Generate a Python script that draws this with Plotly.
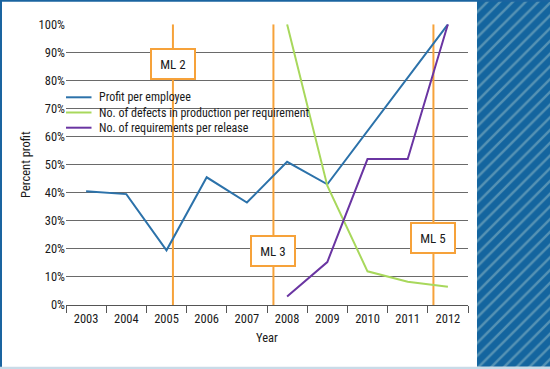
import plotly.graph_objects as go

# ---------------- data ----------------
years = ["2003", "2004", "2005", "2006", "2007", "2008", "2009", "2010", "2011", "2012"]
profit_per_employee = [40.5, 39.5, 19.5, 45.5, 36.5, 51, 43, 62, 81, 100]
defects_per_requirement = [None, None, None, None, None, 100, 42.5, 12, 8.3, 6.5]
requirements_per_release = [None, None, None, None, None, 3, 15.3, 52, 52, 100]
series_names = ["Profit per employee",
                "No. of defects in production per requirement",
                "No. of requirements per release"]
ml_labels = ["ML 2", "ML 3", "ML 5"]
ml_positions = [2.16, 4.66, 8.64]      # in category units
ml_label_levels = [86, 19.4, 23.9]     # percent
y_ticks = [0, 10, 20, 30, 40, 50, 60, 70, 80, 90, 100]

# ---------------- style ----------------
W, H = 550, 369
FONT = "Liberation Sans Narrow, Arial Narrow, Roboto Condensed, Roboto, sans-serif"
BLUE = "#2c72aa"
GREEN = "#a8d85c"
PURPLE = "#6a35a2"
ORANGE = "#f6a23a"
GRID = "#6a6a6a"
FRAME = "#1a64a0"


def fx(px):
    return px / W


def fy(py):
    return 1 - py / H


PLOT_L, PLOT_R, PLOT_T, PLOT_B = 66, 468, 24.3, 305

fig = go.Figure()
colors = [BLUE, GREEN, PURPLE]
for name, vals, col in zip(series_names,
                           [profit_per_employee, defects_per_requirement, requirements_per_release],
                           colors):
    fig.add_trace(go.Scatter(x=years, y=vals, mode="lines", name=name,
                             line=dict(color=col, width=2), showlegend=False,
                             xaxis="x", yaxis="y"))

# hatched side panel
fig.add_trace(go.Bar(x=[0], y=[1], width=[1], xaxis="x2", yaxis="y2", showlegend=False,
                     hoverinfo="skip",
                     marker=dict(color="#14659f", line=dict(width=0),
                                 pattern=dict(shape="/", bgcolor="#14659f", fgcolor="#5592b4",
                                              size=9, solidity=0.28, fillmode="replace"))))

shapes = []
annotations = []
# milestone lines
for pos in ml_positions:
    shapes.append(dict(type="line", xref="x", yref="y", x0=pos, x1=pos, y0=0, y1=100,
                       line=dict(color=ORANGE, width=2), layer="between"))

# manual legend (white text backgrounds, line samples, text)
leg_rows = [97.3, 112.5, 127.7]
leg_right = [193, 309, 248]
for i, (name, col) in enumerate(zip(series_names, colors)):
    yc = leg_rows[i]
    shapes.append(dict(type="rect", xref="paper", yref="paper",
                       x0=fx(66), x1=fx(leg_right[i]), y0=fy(yc + 7.6), y1=fy(yc - 7.6 - (2 if i == 0 else 0)),
                       fillcolor="white", line=dict(width=0), layer="between"))
for i, (name, col) in enumerate(zip(series_names, colors)):
    yc = leg_rows[i]
    shapes.append(dict(type="line", xref="paper", yref="paper",
                       x0=fx(66), x1=fx(91.5), y0=fy(yc), y1=fy(yc),
                       line=dict(color=col, width=2), layer="between"))
    annotations.append(dict(text=name, xref="paper", yref="paper", x=fx(96.5), y=fy(yc),
                            xanchor="left", yanchor="middle", showarrow=False,
                            font=dict(family=FONT, size=12, color="#1a1a1a")))

# milestone label boxes
for lab, pos, lev in zip(ml_labels, ml_positions, ml_label_levels):
    annotations.append(dict(text=lab, xref="x", yref="y", x=pos, y=lev, showarrow=False,
                            xanchor="center", yanchor="middle",
                            width=42, height=28, borderpad=0, borderwidth=2,
                            bordercolor=ORANGE, bgcolor="white",
                            font=dict(family=FONT, size=13, color="#1a1a1a")))

# outer frame
shapes.append(dict(type="line", xref="paper", yref="paper", x0=fx(1), x1=fx(1), y0=0, y1=1,
                   line=dict(color=FRAME, width=2)))
shapes.append(dict(type="line", xref="paper", yref="paper", x0=0, x1=1, y0=fy(0.8), y1=fy(0.8),
                   line=dict(color=FRAME, width=2)))
shapes.append(dict(type="line", xref="paper", yref="paper", x0=0, x1=1, y0=fy(368), y1=fy(368),
                   line=dict(color="#c9dbe8", width=2.5)))

fig.update_layout(
    width=W, height=H,
    margin=dict(l=0, r=0, t=0, b=0),
    paper_bgcolor="white", plot_bgcolor="white",
    font=dict(family=FONT, size=12, color="#1a1a1a"),
    xaxis=dict(type="category", domain=[fx(PLOT_L), fx(PLOT_R)], range=[-0.5, 9.5],
               tickson="boundaries", ticks="outside", ticklen=7, tickcolor="#555",
               tickwidth=1.2, showgrid=False, showline=True, linecolor="#555", linewidth=1.2,
               tickfont=dict(family=FONT, size=12.5, color="#1a1a1a"),
               ticklabelstandoff=2,
               title=dict(text="Year", standoff=8, font=dict(family=FONT, size=12.5)),
               automargin=False, fixedrange=True),
    yaxis=dict(domain=[fy(PLOT_B), fy(PLOT_T)], range=[0, 100], tickvals=y_ticks,
               ticktext=[f"{v}%" for v in y_ticks], showgrid=True, gridcolor=GRID,
               gridwidth=1, zeroline=False, showline=False, ticks="",
               tickfont=dict(family=FONT, size=12.5, color="#1a1a1a"),
               title=dict(text="Percent profit", standoff=5, font=dict(family=FONT, size=12.5)),
               automargin=False, fixedrange=True),
    xaxis2=dict(domain=[fx(476.5), 1], range=[-0.5, 0.5], visible=False, anchor="y2",
                fixedrange=True),
    yaxis2=dict(domain=[fy(366.7), 1], range=[0, 1], visible=False, anchor="x2",
                fixedrange=True),
    shapes=shapes, annotations=annotations,
    bargap=0,
)

fig.write_html("out.html", config={"displayModeBar": False},
               post_script="document.body.style.margin='0';document.body.style.padding='0';")
